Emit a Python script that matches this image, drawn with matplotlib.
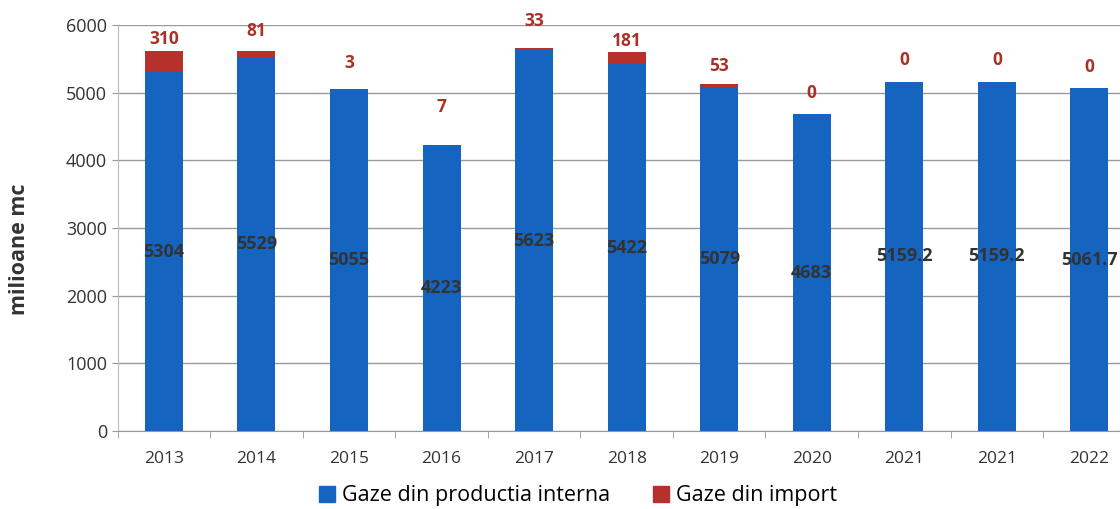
import matplotlib
matplotlib.use("Agg")
import matplotlib.pyplot as plt
from matplotlib.patches import Patch
import numpy as np

plt.rcParams['font.family'] = ['Open Sans', 'DejaVu Sans']

years = ["2013", "2014", "2015", "2016", "2017", "2018", "2019", "2020", "2021", "2021", "2022"]
domestic = [5304, 5529, 5055, 4223, 5623, 5422, 5079, 4683, 5159.2, 5159.2, 5061.7]
domestic_labels = ["5304", "5529", "5055", "4223", "5623", "5422", "5079", "4683", "5159.2", "5159.2", "5061.7"]
imports = [310, 81, 3, 7, 33, 181, 53, 0, 0, 0, 0]
import_label_offsets = [2, 8, 12, 21, 13, 1, 6, 9, 9, 9, 9]  # points above bar top

blue = "#1565c0"
red = "#b7312c"

fig = plt.figure(figsize=(11.2, 5.09), dpi=100)
ax = fig.add_axes([0.105, 0.153, 0.909, 0.798])

x = np.arange(len(years))
w = 0.41
ax.bar(x, domestic, w, color=blue, zorder=3)
ax.bar(x, imports, w, bottom=domestic, color=red, zorder=3)

for i in range(len(years)):
    ax.text(x[i], domestic[i] / 2, domestic_labels[i], ha="center", va="center",
            fontsize=13, fontweight="bold", color="#333333", zorder=4)
    ax.annotate(str(imports[i]), (x[i], domestic[i] + imports[i]),
                xytext=(0, import_label_offsets[i]), textcoords="offset points",
                ha="center", va="bottom", fontsize=12.5, fontweight="bold", color="#a83228",
                zorder=5)

ax.set_ylim(0, 6000)
ax.set_yticks(range(0, 6001, 1000))
ax.set_xlim(-0.5, len(years) - 0.5)
ax.set_xticks(x)
ax.set_xticklabels(years)
ax.set_xticks(np.arange(-0.5, len(years), 1), minor=True)
ax.tick_params(axis="x", which="major", length=0, pad=14, labelsize=12.5, colors="#333333")
ax.tick_params(axis="x", which="minor", length=5, color="#999999")
ax.tick_params(axis="y", length=4, color="#999999", labelsize=13, labelcolor="#333333")
ax.grid(axis="y", color="#9a9a9a", linewidth=1, zorder=0)
for s in ["top", "right"]:
    ax.spines[s].set_visible(False)
ax.spines["left"].set_color("#bbbbbb")
ax.spines["bottom"].set_color("#999999")
ax.set_ylabel("milioane mc", fontsize=15.5, fontweight="bold", color="#333333")
ax.yaxis.set_label_coords(-0.0865, 0.448)

handles = [Patch(color=blue, label="Gaze din productia interna"),
           Patch(color=red, label="Gaze din import")]
fig.legend(handles=handles, loc="lower center", bbox_to_anchor=(0.516, -0.033), ncol=2,
           frameon=False, fontsize=15.5, handlelength=0.75, handleheight=0.75,
           handletextpad=0.3, columnspacing=2.0)

fig.savefig("out.png", dpi=100)
